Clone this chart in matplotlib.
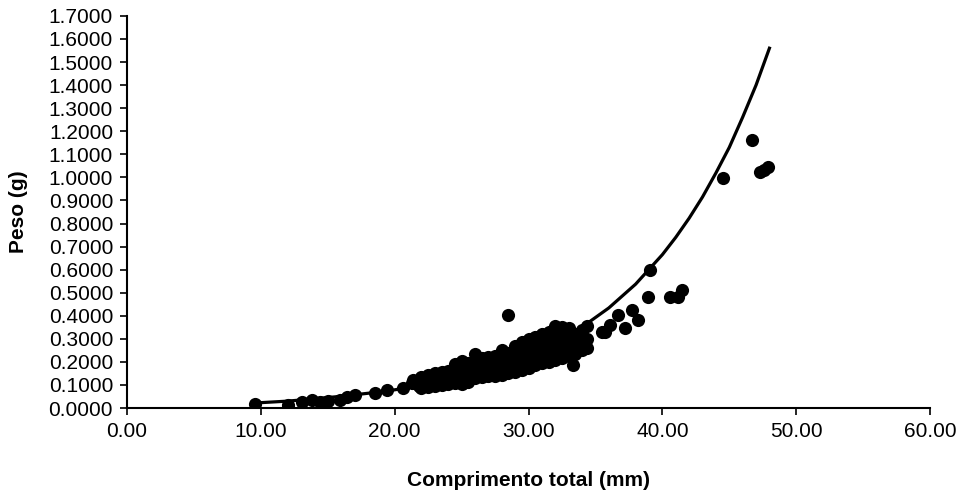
import numpy as np
import matplotlib
matplotlib.use('Agg')
import matplotlib.pyplot as plt
from matplotlib.ticker import FormatStrFormatter

plt.rcParams['font.family'] = ['Liberation Sans', 'DejaVu Sans']

# dados observados: comprimento total (mm) e peso (g)
comprimento = [
    9.6, 12.0, 13.1, 13.8, 14.4, 15.0, 15.9, 16.4, 17.0, 18.5, 19.4, 20.6, 21.3, 21.4, 21.8,
    22.0, 22.0, 22.0, 22.0,
    22.5, 22.5, 22.5, 22.5,
    23.0, 23.0, 23.0, 23.0,
    23.5, 23.5, 23.5, 23.5,
    24.0, 24.0, 24.0, 24.0,
    24.5, 24.5, 24.5, 24.5, 24.5,
    25.0, 25.0, 25.0, 25.0, 25.0, 25.0,
    25.5, 25.5, 25.5, 25.5, 25.5,
    26.0, 26.0, 26.0, 26.0, 26.0,
    26.5, 26.5, 26.5, 26.5, 26.5,
    27.0, 27.0, 27.0, 27.0, 27.0,
    27.5, 27.5, 27.5, 27.5, 27.5,
    28.0, 28.0, 28.0, 28.0, 28.0, 28.0,
    28.5, 28.5, 28.5, 28.5, 28.5, 28.5,
    29.0, 29.0, 29.0, 29.0, 29.0, 29.0,
    29.5, 29.5, 29.5, 29.5, 29.5, 29.5,
    30.0, 30.0, 30.0, 30.0, 30.0, 30.0,
    30.5, 30.5, 30.5, 30.5, 30.5, 30.5,
    31.0, 31.0, 31.0, 31.0, 31.0, 31.0,
    31.5, 31.5, 31.5, 31.5, 31.5, 31.5,
    32.0, 32.0, 32.0, 32.0, 32.0, 32.0,
    32.5, 32.5, 32.5, 32.5, 32.5, 32.5,
    33.0, 33.0, 33.0, 33.0, 33.0, 33.0,
    33.3,
    33.5, 33.5, 33.5, 33.5,
    34.0, 34.0, 34.0, 34.0,
    34.4, 34.4, 34.4,
    35.5, 35.7, 36.1, 36.7, 37.2, 37.7, 38.2, 38.9, 39.1, 40.6, 41.2, 41.5,
    44.5, 46.7, 47.3, 47.6, 47.9,
]
peso = [
    0.017, 0.015, 0.026, 0.034, 0.027, 0.030, 0.034, 0.047, 0.055, 0.065, 0.078, 0.088, 0.108, 0.122, 0.095,
    0.085, 0.100, 0.118, 0.135,
    0.090, 0.110, 0.125, 0.145,
    0.095, 0.115, 0.130, 0.150,
    0.100, 0.120, 0.140, 0.155,
    0.105, 0.125, 0.145, 0.160,
    0.110, 0.130, 0.150, 0.170, 0.190,
    0.105, 0.120, 0.140, 0.160, 0.180, 0.205,
    0.115, 0.135, 0.155, 0.175, 0.195,
    0.130, 0.150, 0.170, 0.190, 0.235,
    0.135, 0.155, 0.175, 0.195, 0.215,
    0.140, 0.160, 0.180, 0.200, 0.220,
    0.140, 0.165, 0.185, 0.205, 0.225,
    0.145, 0.170, 0.190, 0.210, 0.230, 0.250,
    0.150, 0.175, 0.195, 0.215, 0.240, 0.405,
    0.155, 0.180, 0.200, 0.225, 0.250, 0.270,
    0.165, 0.190, 0.210, 0.235, 0.260, 0.285,
    0.175, 0.195, 0.220, 0.245, 0.270, 0.300,
    0.185, 0.205, 0.230, 0.255, 0.280, 0.310,
    0.195, 0.215, 0.240, 0.265, 0.290, 0.320,
    0.200, 0.225, 0.250, 0.275, 0.300, 0.330,
    0.210, 0.235, 0.260, 0.285, 0.315, 0.355,
    0.215, 0.240, 0.265, 0.290, 0.320, 0.350,
    0.225, 0.250, 0.275, 0.300, 0.330, 0.345,
    0.185,
    0.235, 0.260, 0.290, 0.320,
    0.250, 0.280, 0.310, 0.340,
    0.260, 0.300, 0.355,
    0.330, 0.330, 0.360, 0.403, 0.347, 0.425, 0.381, 0.481, 0.598, 0.481, 0.481, 0.512,
    0.997, 1.160, 1.023, 1.030, 1.045,
]

# curva ajustada
curva_L = [9.6, 12, 14, 16, 18, 20, 22, 24, 26, 28, 30, 32, 34, 36, 38, 40,
           41, 42, 43, 44, 45, 46, 47, 48]
curva_W = [0.022, 0.030, 0.040, 0.051, 0.064, 0.079, 0.098, 0.121, 0.150, 0.185, 0.229, 0.284,
           0.351, 0.434, 0.537, 0.665, 0.740, 0.823, 0.915, 1.019, 1.130, 1.261, 1.400, 1.560]

x_ticks = [0, 10, 20, 30, 40, 50, 60]
y_ticks = np.arange(0, 1.71, 0.1)

fig = plt.figure(figsize=(9.6, 4.97), dpi=100)
ax = fig.add_axes([0.1323, 0.179, 0.8365, 0.789])

ax.scatter(comprimento, peso, s=90, color='black', zorder=3, linewidths=0)
ax.plot(curva_L, curva_W, color='black', lw=2.3, zorder=4)

ax.set_xlim(0, 60)
ax.set_ylim(0, 1.7)
ax.set_xticks(x_ticks)
ax.set_yticks(y_ticks)
ax.xaxis.set_major_formatter(FormatStrFormatter('%.2f'))
ax.yaxis.set_major_formatter(FormatStrFormatter('%.4f'))

ax.spines['top'].set_visible(False)
ax.spines['right'].set_visible(False)
ax.spines['left'].set_linewidth(1.5)
ax.spines['bottom'].set_linewidth(1.5)
ax.tick_params(direction='out', length=5, width=1.2, labelsize=15, pad=5)

ax.set_xlabel('Comprimento total (mm)', fontsize=15, fontweight='bold', labelpad=22)
ax.set_ylabel('Peso (g)', fontsize=15, fontweight='bold', labelpad=15)

fig.savefig('out.png', dpi=100)
